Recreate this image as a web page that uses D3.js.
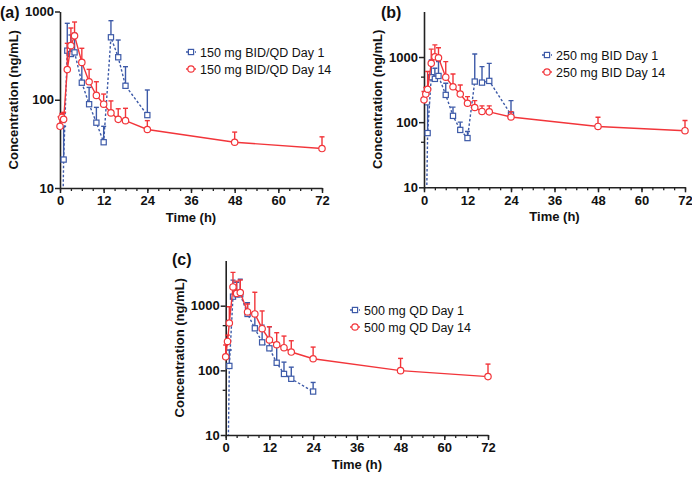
<!doctype html>
<html>
<head>
  <script src="https://d3js.org/d3.v7.min.js"></script>
  <style>
    body { margin:0; background:#fff; }
    text { font-family: "Liberation Sans", Arial, sans-serif; }
  </style>
</head>
<body>
  <script>
    // sampling times (h)
    var timeD1 = [0.5, 1, 2, 3, 4, 6, 8, 10, 12, 14, 16, 18, 24];
    var timeD14 = [0, 0.5, 1, 2, 3, 4, 6, 8, 10, 12, 14, 16, 18, 24, 48, 72];
    var xTicks = [0, 12, 24, 36, 48, 60, 72];

    // (a) 150 mg BID/QD  (first Day 1 value is below LLOQ)
    var aD1 = [1, 21, 360, 330, 344, 156, 89, 55, 33, 510, 303, 144, 67];
    var aD1up = [null, 50, 735, 542, 566, 259, 138, 82, 50, 787, 475, 237, 129];
    var aD14 = [50, 63, 60, 220, 410, 530, 265, 160, 112, 89, 71, 60, 58, 46, 33, 28];
    var aD14up = [64, 70, 72, 436, 650, 760, 383, 221, 160, 116, 97, 79, 80, 58, 43, 38];

    // (b) 250 mg BID
    var bD1 = [1, 68, 490, 462, 512, 262, 125, 76, 57, 420, 405, 430, 130];
    var bD1up = [null, 184, 900, 673, 850, 396, 170, 100, 72, 1115, 713, 800, 214];
    var bD14 = [220, 270, 320, 800, 1010, 975, 490, 350, 270, 195, 168, 146, 144, 120, 86, 74];
    var bD14up = [295, 340, 600, 1320, 1535, 1390, 850, 550, 373, 247, 214, 178, 178, 145, 119, 106];

    // (c) 500 mg QD
    var cD1 = [1, 117, 1380, 1500, 1500, 745, 447, 271, 219, 131, 88, 74, 47];
    var cD1up = [null, 206, 2490, 2300, 2560, 1110, 745, 500, 473, 252, 134, 112, 65];
    var cD14 = [162, 280, 540, 1950, 1550, 1600, 800, 745, 441, 295, 249, 224, 192, 151, 99, 80];
    var cD14up = [246, 350, 965, 3280, 2400, 2500, 1060, 1610, 829, 473, 382, 339, 287, 229, 153, 125];

    var yTicks = [10, 100, 1000];
    var yMinor = [50, 500];
    var labelsD1 = ["150 mg BID/QD Day 1", "250 mg BID Day 1", "500 mg QD Day 1"];
    var labelsD14 = ["150 mg BID/QD Day 14", "250 mg BID Day 14", "500 mg QD Day 14"];
    var panelNames = ["(a)", "(b)", "(c)"];

    var blue = "#3d5aa8", red = "#f2353a", axisCol = "#222";

    var svg = d3.select("body").append("svg")
      .attr("width", 692)
      .attr("height", 478);

    var panels = [
      {name: panelNames[0], d1: aD1, d1up: aD1up, d14: aD14, d14up: aD14up, l1: labelsD1[0], l14: labelsD14[0],
       x0: 60, x1: 322, yTop: 11.5, yBot: 188, yMax: 1000, minor: false, legX: 191, legY: 52, labX: 0, labY: 17.5},
      {name: panelNames[1], d1: bD1, d1up: bD1up, d14: bD14, d14up: bD14up, l1: labelsD1[1], l14: labelsD14[1],
       x0: 424, x1: 685, yTop: 11.5, yBot: 187.3, yMax: 5000, minor: true, legX: 547, legY: 55, labX: 381, labY: 17.5},
      {name: panelNames[2], d1: cD1, d1up: cD1up, d14: cD14, d14up: cD14up, l1: labelsD1[2], l14: labelsD14[2],
       x0: 225.7, x1: 488, yTop: 260.5, yBot: 435, yMax: 5000, minor: true, legX: 355, legY: 310, labX: 172, labY: 265}
    ];

    panels.forEach(function(p, i){
      var x = d3.scaleLinear().domain([0, 72]).range([p.x0, p.x1]);
      var y = d3.scaleLog().domain([10, p.yMax]).range([p.yBot, p.yTop]);
      var g = svg.append("g");

      // clip so below-LLOQ points run off the bottom
      var clipId = "clip" + i;
      g.append("clipPath").attr("id", clipId)
        .append("rect")
        .attr("x", p.x0 - 10).attr("y", p.yTop - 20)
        .attr("width", p.x1 - p.x0 + 20).attr("height", p.yBot - p.yTop + 20);

      // axes
      var xMinor = d3.range(0, 73, 3);
      g.append("g")
        .attr("transform", "translate(0," + p.yBot + ")")
        .call(d3.axisBottom(x).tickValues(xMinor).tickSize(3).tickFormat(""))
        .call(function(a){ a.select(".domain").remove(); a.selectAll("line").attr("stroke", axisCol).attr("stroke-width", 1.3); });
      var xa = g.append("g")
        .attr("transform", "translate(0," + p.yBot + ")")
        .call(d3.axisBottom(x).tickValues(xTicks).tickSize(5).tickSizeOuter(0).tickPadding(3));
      xa.select(".domain").attr("stroke", axisCol).attr("stroke-width", 1.6);
      xa.selectAll("line").attr("stroke", axisCol).attr("stroke-width", 1.5);
      xa.selectAll("text").attr("font-size", 13).attr("font-weight", "bold").attr("fill", "#111");

      if (p.minor) {
        g.append("g")
          .attr("transform", "translate(" + p.x0 + ",0)")
          .call(d3.axisLeft(y).tickValues(yMinor).tickSize(3).tickFormat(""))
          .call(function(a){ a.select(".domain").remove(); a.selectAll("line").attr("stroke", axisCol).attr("stroke-width", 1.3); });
      }
      var ya = g.append("g")
        .attr("transform", "translate(" + p.x0 + ",0)")
        .call(d3.axisLeft(y).tickValues(yTicks).tickFormat(d3.format("d")).tickSize(5).tickSizeOuter(0).tickPadding(1));
      ya.select(".domain").attr("stroke", axisCol).attr("stroke-width", 1.6);
      ya.selectAll("line").attr("stroke", axisCol).attr("stroke-width", 1.5);
      ya.selectAll("text").attr("font-size", 13).attr("font-weight", "bold").attr("fill", "#111");

      // titles
      g.append("text")
        .attr("x", (p.x0 + p.x1) / 2).attr("y", p.yBot + 34)
        .attr("text-anchor", "middle").attr("font-size", 13).attr("font-weight", "bold").attr("fill", "#111")
        .text("Time (h)");
      g.append("text")
        .attr("transform", "translate(" + (p.x0 - 42) + "," + ((p.yTop + p.yBot) / 2) + ") rotate(-90)")
        .attr("text-anchor", "middle").attr("font-size", 13).attr("font-weight", "bold").attr("fill", "#111")
        .text("Concentration (ng/mL)");
      g.append("text")
        .attr("x", p.labX).attr("y", p.labY)
        .attr("font-size", 16).attr("font-weight", "bold").attr("fill", "#111")
        .text(p.name);

      var plot = g.append("g").attr("clip-path", "url(#" + clipId + ")");

      function series(times, vals, ups, col, dashed, shape) {
        var pts = times.map(function(t, k){ return {t: t, v: vals[k], u: ups[k]}; });
        // upper error bars
        var eb = plot.append("g").attr("stroke", col).attr("stroke-width", 1.4);
        pts.filter(function(d){ return d.u != null; }).forEach(function(d){
          eb.append("line").attr("x1", x(d.t)).attr("x2", x(d.t)).attr("y1", y(d.v)).attr("y2", y(d.u));
          eb.append("line").attr("x1", x(d.t) - 2.5).attr("x2", x(d.t) + 2.5).attr("y1", y(d.u)).attr("y2", y(d.u));
        });
        plot.append("path")
          .datum(pts)
          .attr("fill", "none").attr("stroke", col).attr("stroke-width", 1.4)
          .attr("stroke-dasharray", dashed ? "2.5,2" : null)
          .attr("d", d3.line().x(function(d){ return x(d.t); }).y(function(d){ return y(d.v); }));
        drawMarkers(plot, pts.map(function(d){ return [x(d.t), y(d.v)]; }), col, shape);
      }

      series(timeD1, p.d1, p.d1up, blue, true, "square");
      series(timeD14, p.d14, p.d14up, red, false, "circle");

      // legend
      var leg = g.append("g");
      [[p.l1, blue, true, "square"], [p.l14, red, false, "circle"]].forEach(function(l, k){
        var ly = p.legY + k * 17;
        leg.append("line").attr("x1", p.legX - 5).attr("x2", p.legX + 5).attr("y1", ly).attr("y2", ly)
          .attr("stroke", l[1]).attr("stroke-width", 1.4).attr("stroke-dasharray", l[2] ? "2.5,2" : null);
        drawMarkers(leg, [[p.legX, ly]], l[1], l[3]);
        leg.append("text").attr("x", p.legX + 9).attr("y", ly + 4.5)
          .attr("font-size", 12.5).attr("fill", "#111").text(l[0]);
      });
    });

    function drawMarkers(sel, xy, col, shape) {
      xy.forEach(function(c){
        if (shape === "square") {
          sel.append("rect").attr("x", c[0] - 2.6).attr("y", c[1] - 2.6).attr("width", 5.2).attr("height", 5.2)
            .attr("fill", "#fff").attr("stroke", col).attr("stroke-width", 1.2);
        } else {
          sel.append("circle").attr("cx", c[0]).attr("cy", c[1]).attr("r", 3.2)
            .attr("fill", "#fff").attr("stroke", col).attr("stroke-width", 1.2);
        }
      });
    }
  </script>
</body>
</html>
